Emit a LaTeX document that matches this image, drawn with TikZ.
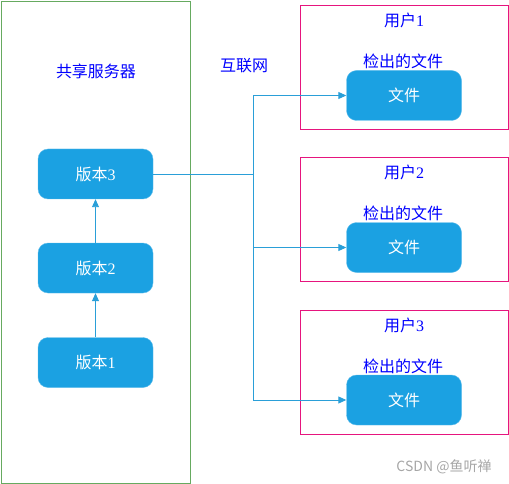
\documentclass[tikz,border=0pt]{standalone}
\usepackage{fontspec}
\setmainfont{Liberation Serif}
\newfontfamily\cjk{Noto Sans CJK SC}
\usetikzlibrary{arrows.meta}
\definecolor{bluebox}{HTML}{1BA1E2}
\definecolor{linkc}{HTML}{2A9FD8}
\definecolor{pinkc}{HTML}{E6157E}
\definecolor{greenc}{HTML}{66AA60}
\definecolor{labelc}{HTML}{0000FF}
\tikzset{
  x=1pt, y=-1pt,
  ver/.style={draw=bluebox!70!white, fill=bluebox, rounded corners=10pt, minimum width=115pt, minimum height=50pt, text=white, font=\fontsize{16}{19}\selectfont, inner sep=0pt},
  userbox/.style={draw=pinkc, line width=0.9pt, minimum width=208pt, minimum height=124pt, inner sep=0pt},
  srvbox/.style={draw=greenc, line width=0.9pt, minimum width=189pt, minimum height=482pt, inner sep=0pt},
  lbl/.style={text=labelc, font=\fontsize{16}{19}\selectfont, inner sep=0pt},
  conn/.style={draw=linkc, line width=0.9pt, -{Triangle[length=8pt,width=7pt]}},
  plain/.style={draw=linkc, line width=0.9pt},
}
\begin{document}
\begin{tikzpicture}
\useasboundingbox (0,0) rectangle (509,484);
% server
\node[srvbox] (server) at (95.5,242) {};
\node[lbl] (srvlbl) at (96,71) {\cjk 共享服务器};
\node[ver] (v3) at (95.5,174) {{\cjk 版本}3};
\node[ver] (v2) at (95.5,268) {{\cjk 版本}2};
\node[ver] (v1) at (95.5,362.5) {{\cjk 版本}1};
\draw[conn] (v1) -- (v2);
\draw[conn] (v2) -- (v3);
% internet
\node[lbl] (net) at (244,66) {\cjk 互联网};
\coordinate (j) at (253,174);
% users
\node[userbox] (u1) at (404,67) {};
\node[userbox] (u2) at (404,219) {};
\node[userbox] (u3) at (404,372) {};
\node[lbl] (u1l) at (404,20) {{\cjk 用户}1};
\node[lbl] (u2l) at (404,172) {{\cjk 用户}2};
\node[lbl] (u3l) at (404,325) {{\cjk 用户}3};
\node[lbl] (c1) at (403,61) {\cjk 检出的文件};
\node[lbl] (c2) at (403,213) {\cjk 检出的文件};
\node[lbl] (c3) at (403,366) {\cjk 检出的文件};
\node[ver, font=\cjk\fontsize{16}{19}\selectfont] (f1) at (404,95.5) {文件};
\node[ver, font=\cjk\fontsize{16}{19}\selectfont] (f2) at (404,247.5) {文件};
\node[ver, font=\cjk\fontsize{16}{19}\selectfont] (f3) at (404,400) {文件};
\draw[plain] (v3.east) -- (j);
\draw[conn] (j) |- (f1.west);
\draw[conn] (j) |- (f2.west);
\draw[conn] (j) |- (f3.west);
% watermark
\node[text=black!35, font=\fontsize{14}{16}\selectfont\cjk, inner sep=0pt] (wm) at (444,467) {CSDN @鱼听禅};
\end{tikzpicture}
\end{document}
